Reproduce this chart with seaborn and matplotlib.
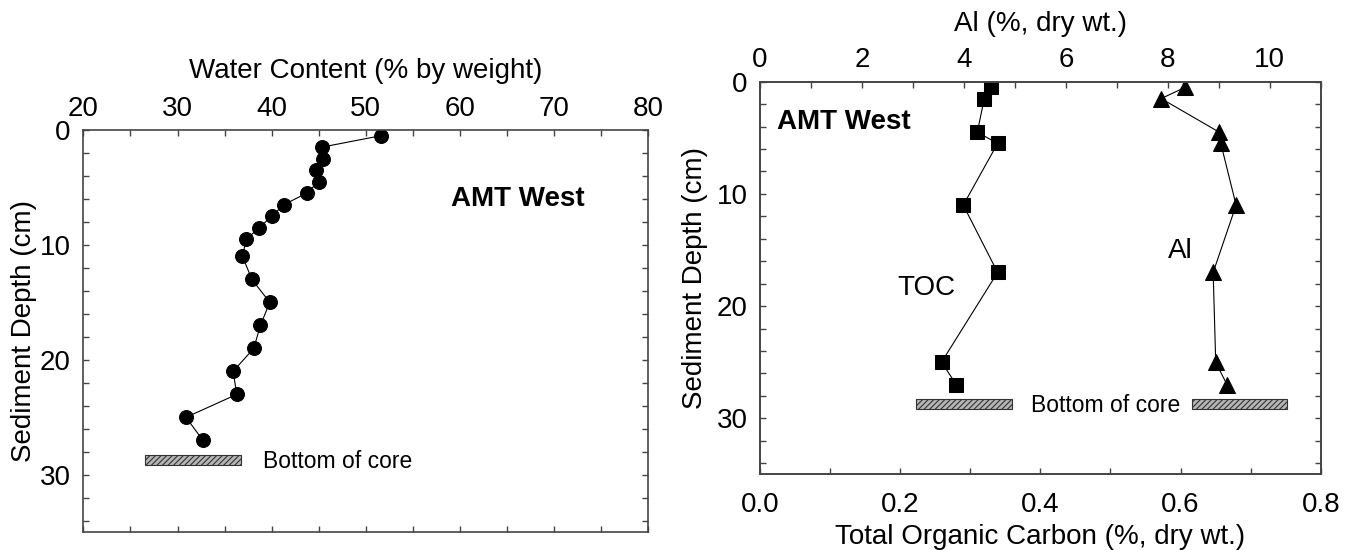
import matplotlib
matplotlib.use("Agg")
import matplotlib.pyplot as plt
from matplotlib.ticker import MultipleLocator, FormatStrFormatter
import seaborn as sns
import pandas as pd

# Water content profile (AMT West core)
wc_depth = [0.5, 1.5, 2.5, 3.5, 4.5, 5.5, 6.5, 7.5, 8.5, 9.5, 11, 13, 15, 17, 19, 21, 23, 25, 27]
water_content = [51.6, 45.3, 45.4, 44.7, 45.0, 43.7, 41.3, 40.0, 38.7, 37.3, 36.9, 37.9, 39.8, 38.8,
                 38.1, 35.9, 36.3, 30.9, 32.7]

# Total organic carbon and aluminium profiles
toc_depth = [0.5, 1.5, 4.5, 5.5, 11, 17, 25, 27]
toc = [0.330, 0.320, 0.310, 0.339, 0.290, 0.339, 0.259, 0.280]
al_depth = [0.5, 1.5, 4.5, 5.5, 11, 17, 25, 27]
al = [8.34, 7.87, 9.01, 9.04, 9.34, 8.89, 8.94, 9.16]

# Bottom-of-core marker bars
core_bottom_depth = 28.7
wc_core_bar = [26.5, 36.7]
toc_core_bars = [[0.223, 0.359], [0.616, 0.752]]

sns.set_style("ticks")
plt.rcParams["font.family"] = ["Liberation Sans", "DejaVu Sans"]
plt.rcParams["text.color"] = "black"
plt.rcParams["axes.labelcolor"] = "black"
plt.rcParams["hatch.linewidth"] = 0.8
plt.rcParams["hatch.color"] = "#333333"

FS = 20
NOTE_FS = 16.5
SPINE = "#444444"

fig = plt.figure(figsize=(13.55, 5.5), dpi=100)


def style_axes(ax):
    for s in ax.spines.values():
        s.set_visible(True)
        s.set_color(SPINE)
        s.set_linewidth(1.2)
    ax.tick_params(which="both", direction="in", color=SPINE, width=1.0, length=4.5,
                   labelsize=FS, labelcolor="black")


def core_bar(ax, x0, x1, y):
    ax.barh(y=y, width=x1 - x0, left=x0, height=0.9, color="#b5b5b5",
            edgecolor="#333333", linewidth=0.8, hatch="//////", zorder=2)


# ---------------- left panel: water content ----------------
ax1 = fig.add_axes([0.0615, 0.0322, 0.4170, 0.7315])
df_wc = pd.DataFrame({"wc": water_content, "depth": wc_depth})
sns.lineplot(data=df_wc, x="wc", y="depth", sort=False, estimator=None, ax=ax1,
             color="black", linewidth=0.8, marker="o", markersize=10,
             markeredgecolor="black", markerfacecolor="black")
core_bar(ax1, wc_core_bar[0], wc_core_bar[1], core_bottom_depth)
ax1.text(39.1, 28.85, "Bottom of core", fontsize=NOTE_FS, va="center", ha="left")
ax1.text(59.0, 6.0, "AMT West", fontsize=FS, fontweight="bold", va="center", ha="left")

ax1.set_xlim(20, 80)
ax1.set_ylim(35, 0)
ax1.xaxis.set_major_locator(MultipleLocator(10))
ax1.xaxis.set_minor_locator(MultipleLocator(5))
ax1.yaxis.set_major_locator(MultipleLocator(10))
ax1.yaxis.set_minor_locator(MultipleLocator(2))
style_axes(ax1)
ax1.tick_params(which="both", top=True, bottom=True, left=True, right=True,
                labeltop=True, labelbottom=False)
ax1.tick_params(axis="x", pad=6)
ax1.tick_params(axis="y", pad=9)
ax1.xaxis.set_label_position("top")
ax1.set_xlabel("Water Content (% by weight)", fontsize=FS, labelpad=13)
ax1.set_ylabel("Sediment Depth (cm)", fontsize=FS, labelpad=2)

# ---------------- right panel: TOC (bottom) and Al (top) ----------------
ax2 = fig.add_axes([0.5609, 0.1376, 0.4138, 0.7138])
df_toc = pd.DataFrame({"toc": toc, "depth": toc_depth})
sns.lineplot(data=df_toc, x="toc", y="depth", sort=False, estimator=None, ax=ax2,
             color="black", linewidth=0.8, marker="s", markersize=10,
             markeredgecolor="black", markerfacecolor="black")
for x0, x1 in toc_core_bars:
    core_bar(ax2, x0, x1, core_bottom_depth)
ax2.text(0.386, 28.85, "Bottom of core", fontsize=NOTE_FS, va="center", ha="left")
ax2.text(0.238, 18.4, "TOC", fontsize=FS, va="center", ha="center")
ax2.text(0.600, 15.1, "Al", fontsize=FS, va="center", ha="center")
ax2.text(0.024, 3.6, "AMT West", fontsize=FS, fontweight="bold", va="center", ha="left")

ax2.set_xlim(0, 0.8)
ax2.set_ylim(35, 0)
ax2.xaxis.set_major_locator(MultipleLocator(0.2))
ax2.xaxis.set_minor_locator(MultipleLocator(0.1))
ax2.xaxis.set_major_formatter(FormatStrFormatter("%.1f"))
ax2.yaxis.set_major_locator(MultipleLocator(10))
ax2.yaxis.set_minor_locator(MultipleLocator(2))
style_axes(ax2)
ax2.tick_params(which="both", top=False, bottom=True, left=True, right=True)
ax2.tick_params(axis="x", pad=13)
ax2.tick_params(axis="y", pad=9)
ax2.set_xlabel("Total Organic Carbon (%, dry wt.)", fontsize=FS, labelpad=4)
ax2.set_ylabel("Sediment Depth (cm)", fontsize=FS, labelpad=6)

ax3 = ax2.twiny()
df_al = pd.DataFrame({"al": al, "depth": al_depth})
sns.lineplot(data=df_al, x="al", y="depth", sort=False, estimator=None, ax=ax3,
             color="black", linewidth=0.8, marker="^", markersize=11,
             markeredgecolor="black", markerfacecolor="black")
ax3.set_xlim(0, 11)
ax3.set_ylim(35, 0)
ax3.xaxis.set_major_locator(MultipleLocator(2))
ax3.xaxis.set_minor_locator(MultipleLocator(1))
style_axes(ax3)
ax3.tick_params(which="both", top=True, bottom=False, left=False, right=False,
                labeltop=True, labelbottom=False, labelleft=False)
ax3.tick_params(axis="x", pad=6)
ax3.set_ylabel("")
ax3.xaxis.set_label_position("top")
ax3.set_xlabel("Al (%, dry wt.)", fontsize=FS, labelpad=12)

fig.savefig("out.png", dpi=100)
